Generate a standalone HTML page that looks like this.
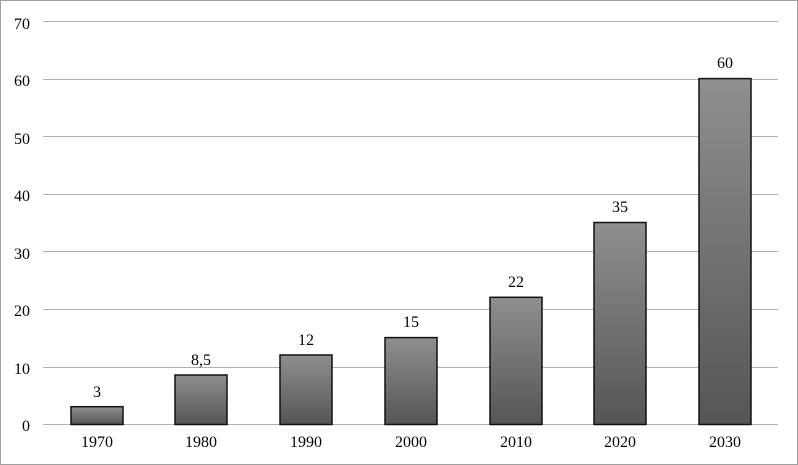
<!DOCTYPE html>
<html><head><style>
body{margin:0;background:#fff}
svg{display:block}
text{font-family:"Liberation Serif",serif;font-size:16px;fill:#000}
</style></head><body>
<svg width="798" height="465" viewBox="0 0 798 465">
<defs><linearGradient id="g" x1="0" y1="0" x2="0" y2="1">
<stop offset="0" stop-color="#8f8f8f"/><stop offset="1" stop-color="#555"/></linearGradient></defs>
<rect x="0.5" y="0.5" width="797" height="464" fill="#fff" stroke="#a0a0a0"/>
<g stroke="#b0b0b0" stroke-width="1">
<line x1="43" x2="778" y1="21.5" y2="21.5"/><line x1="43" x2="778" y1="79.5" y2="79.5"/>
<line x1="43" x2="778" y1="136.5" y2="136.5"/><line x1="43" x2="778" y1="194.5" y2="194.5"/>
<line x1="43" x2="778" y1="251.5" y2="251.5"/><line x1="43" x2="778" y1="309.5" y2="309.5"/>
<line x1="43" x2="778" y1="367.5" y2="367.5"/><line x1="43" x2="778" y1="424.5" y2="424.5"/>
</g>
<g text-anchor="end">
<text x="30" y="29">70</text><text x="30" y="86">60</text><text x="30" y="144">50</text>
<text x="30" y="201">40</text><text x="30" y="259">30</text><text x="30" y="316">20</text>
<text x="30" y="374">10</text><text x="30" y="431">0</text>
</g>
<g fill="url(#g)" stroke="#111" stroke-width="1.5">
<rect x="71" y="406.7" width="52" height="17.8"/>
<rect x="175" y="375" width="52" height="49.5"/>
<rect x="280" y="355" width="52" height="69.5"/>
<rect x="385" y="337.6" width="52" height="86.9"/>
<rect x="490" y="297.3" width="52" height="127.2"/>
<rect x="594" y="222.5" width="52" height="202"/>
<rect x="699" y="78.6" width="52" height="345.9"/>
</g>
<g text-anchor="middle">
<text x="97" y="397">3</text><text x="201" y="365">8,5</text><text x="306" y="345">12</text>
<text x="411" y="327">15</text><text x="516" y="287">22</text><text x="620" y="212">35</text>
<text x="725" y="68">60</text>
<text x="97" y="447">1970</text><text x="201" y="447">1980</text><text x="306" y="447">1990</text>
<text x="411" y="447">2000</text><text x="516" y="447">2010</text><text x="620" y="447">2020</text>
<text x="725" y="447">2030</text>
</g>
</svg>
</body></html>
